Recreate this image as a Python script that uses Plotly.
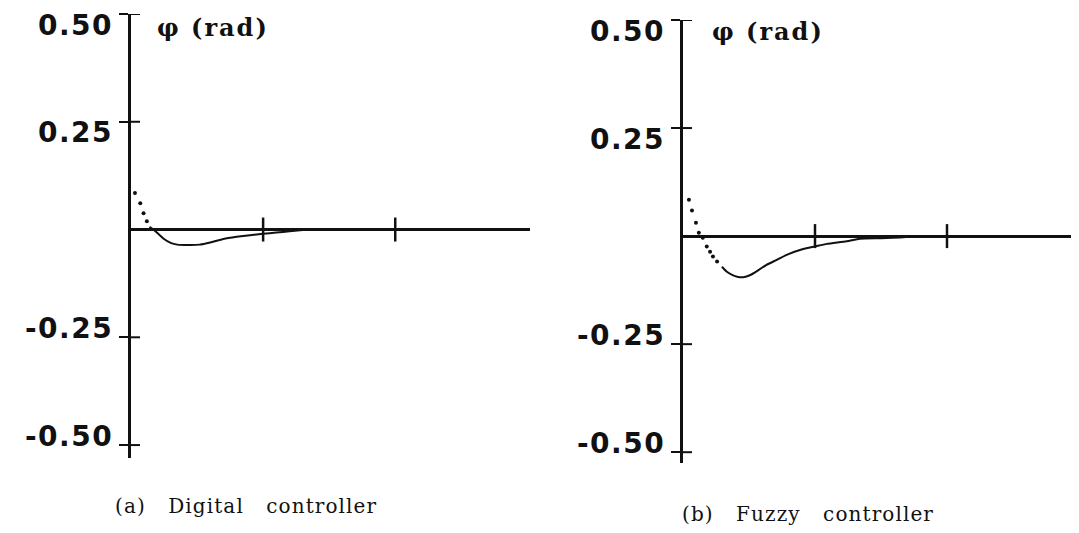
import plotly.graph_objects as go

# ---------------- data ----------------
y_tick_vals = [0.50, 0.25, -0.25, -0.50]
y_tick_text = ["0.50", "0.25", "-0.25", "-0.50"]
x_tick_vals = [1, 2]

# (a) Digital controller
t_a_dots = [0.03, 0.07, 0.095, 0.12]
phi_a_dots = [0.085, 0.061, 0.038, 0.019]
t_a_line = [0.14, 0.17, 0.21, 0.25, 0.30, 0.35, 0.45, 0.52, 0.60, 0.70, 0.80,
            0.90, 1.00, 1.10, 1.20, 1.30]
phi_a_line = [0.006, 0.0, -0.011, -0.022, -0.031, -0.035, -0.036, -0.035, -0.030,
              -0.022, -0.017, -0.013, -0.010, -0.007, -0.004, -0.001]

# (b) Fuzzy controller
t_b_dots = [0.045, 0.068, 0.098, 0.12, 0.15, 0.18, 0.205, 0.227, 0.258]
phi_b_dots = [0.084, 0.059, 0.031, 0.008, -0.004, -0.024, -0.036, -0.047, -0.059]
t_b_line = [0.295, 0.33, 0.38, 0.41, 0.457, 0.51, 0.58, 0.63, 0.71, 0.79, 0.91,
            1.00, 1.09, 1.24, 1.34, 1.50, 1.59, 1.69, 1.75]
phi_b_line = [-0.071, -0.082, -0.091, -0.094, -0.095, -0.090, -0.077, -0.067,
              -0.055, -0.043, -0.030, -0.024, -0.018, -0.012, -0.006, -0.005,
              -0.004, -0.002, 0.0]

y_label = "φ (rad)"
captions = ["(a)\u00a0\u00a0\u00a0Digital\u00a0\u00a0\u00a0controller",
            "(b)\u00a0\u00a0\u00a0Fuzzy\u00a0\u00a0\u00a0controller"]

# ---------------- layout helpers ----------------
INK = "#111111"
PAGE_W, PAGE_H = 1079, 533
OFF = 8                      # default body margin of the html page
W, H = PAGE_W - OFF, PAGE_H - OFF


def fx(px):                   # page pixel -> paper fraction (x)
    return (px - OFF) / W


def fy(py):                   # page pixel -> paper fraction (y, from bottom)
    return 1 - (py - OFF) / H


def spaced(s, px):
    return f'<span style="letter-spacing:{px}px">{s}</span>'


fig = go.Figure()

panels = [
    ("x", "y", t_a_dots, phi_a_dots, t_a_line, phi_a_line),
    ("x2", "y2", t_b_dots, phi_b_dots, t_b_line, phi_b_line),
]
for xa, ya, td, pd_, tl, pl in panels:
    fig.add_trace(go.Scatter(x=td, y=pd_, mode="markers", xaxis=xa, yaxis=ya,
                             marker=dict(size=4, color=INK), hoverinfo="skip"))
    fig.add_trace(go.Scatter(x=tl, y=pl, mode="lines", xaxis=xa, yaxis=ya,
                             line=dict(color=INK, width=2, shape="spline", smoothing=0.6),
                             hoverinfo="skip"))

yaxis_common = dict(
    automargin=False,
    showgrid=False, zeroline=True, zerolinecolor=INK, zerolinewidth=2.5,
    showline=True, linecolor=INK, linewidth=2.5,
    ticks="outside", ticklen=9, tickwidth=2, tickcolor=INK,
    tickmode="array", tickvals=y_tick_vals, showticklabels=False,
)
xaxis_common = dict(automargin=False, showgrid=False, zeroline=False, showline=False,
                    showticklabels=False, ticks="")

fig.update_layout(
    width=W, height=H,
    margin=dict(l=0, r=0, t=0, b=0, autoexpand=False),
    paper_bgcolor="white", plot_bgcolor="white",
    showlegend=False,
    xaxis=dict(domain=[fx(131), fx(530)], range=[0, 3.02], anchor="y", **xaxis_common),
    yaxis=dict(domain=[fy(458), fy(14)], range=[-0.53, 0.5], anchor="x",
               **yaxis_common),
    xaxis2=dict(domain=[fx(683), 1.0], range=[0, 3.0], anchor="y2", **xaxis_common),
    yaxis2=dict(domain=[fy(463), fy(20)], range=[-0.525, 0.5], anchor="x2",
                **yaxis_common),
)

shapes = []
annotations = []
for xr, yr in [("x", "y"), ("x2", "y2")]:
    # vertical cross ticks on the time axis
    for xv in x_tick_vals:
        shapes.append(dict(type="line", xref=xr, yref=yr, x0=xv, x1=xv,
                           ysizemode="pixel", yanchor=0, y0=-12, y1=12,
                           line=dict(color=INK, width=2.5)))
    # inner half of the y-axis cross ticks + tick labels
    for yv, lbl in zip(y_tick_vals, y_tick_text):
        shapes.append(dict(type="line", xref=xr, yref=yr, y0=yv, y1=yv,
                           xsizemode="pixel", xanchor=0, x0=0, x1=9,
                           line=dict(color=INK, width=2)))
        annotations.append(dict(
            text=spaced(lbl, 1.5), xref=f"{xr} domain", yref=yr, x=0, y=yv,
            xanchor="right", yanchor="middle", xshift=-16,
            yshift=-11 if yv > 0 else 9, showarrow=False,
            font=dict(family="DejaVu Sans", size=28, color=INK, weight="bold")))

fig.update_layout(shapes=shapes)

annotations += [
    dict(text=spaced(y_label, 2), x=fx(155), y=fy(28), xref="paper", yref="paper",
         xanchor="left", yanchor="middle", showarrow=False,
         font=dict(family="DejaVu Serif", size=24, color=INK, weight="bold")),
    dict(text=spaced(y_label, 2), x=fx(710), y=fy(31), xref="paper", yref="paper",
         xanchor="left", yanchor="middle", showarrow=False,
         font=dict(family="DejaVu Serif", size=24, color=INK, weight="bold")),
    dict(text=spaced(captions[0], 1.1), x=fx(246), y=fy(506), xref="paper",
         yref="paper", xanchor="center", yanchor="middle", showarrow=False,
         font=dict(family="DejaVu Serif", size=20, color=INK)),
    dict(text=spaced(captions[1], 1.1), x=fx(808), y=fy(514), xref="paper",
         yref="paper", xanchor="center", yanchor="middle", showarrow=False,
         font=dict(family="DejaVu Serif", size=20, color=INK)),
]
fig.update_layout(annotations=annotations)

fig.write_html("out.html")
